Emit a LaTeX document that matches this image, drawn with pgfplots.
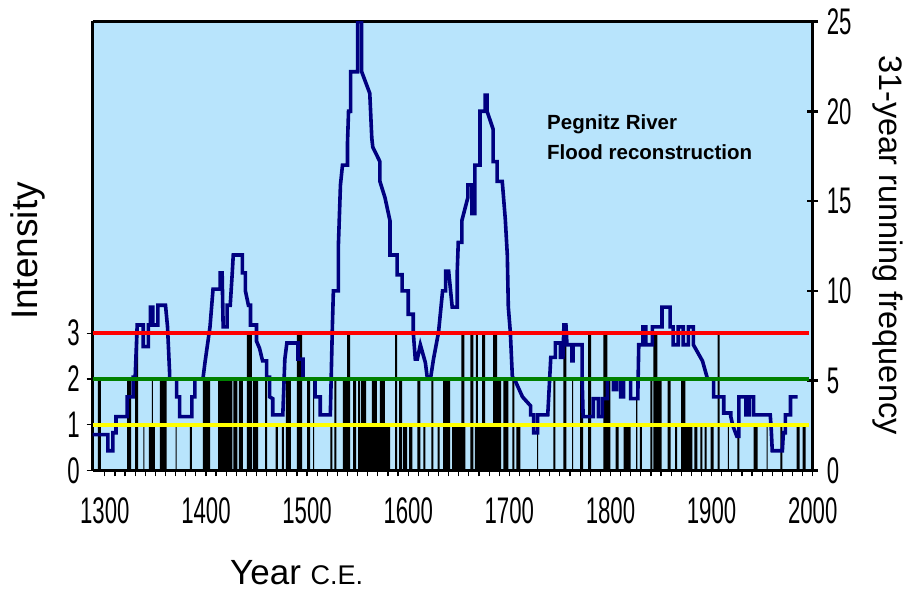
\documentclass[border=0pt]{standalone}
\usepackage{fontspec}
\setmainfont{Liberation Sans}
\usepackage{graphicx}
\usepackage{pgfplots}
\pgfplotsset{compat=1.18}
\definecolor{bgblue}{RGB}{184,228,252}
\definecolor{navy}{RGB}{0,0,128}
\definecolor{dgreen}{RGB}{0,128,0}
\definecolor{yel}{RGB}{255,255,0}
\newcommand\tk[1]{\scalebox{0.6}[1]{#1}}
\begin{document}
\begin{tikzpicture}
\useasboundingbox (-92.7pt,-120.5pt) rectangle (815.3pt,470.5pt);
% ---------- intensity axis (bars) ----------
\begin{axis}[
  at={(0pt,0pt)}, anchor=south west,
  scale only axis, width=720pt, height=449pt,
  xmin=1288, xmax=2000, ymin=0, ymax=9.804,
  axis background/.style={fill=bgblue},
  axis y line*=left,
  axis line style={line width=2.5pt, black},
  xtick={1300,1400,...,2000},
  xticklabels={\tk{1300},\tk{1400},\tk{1500},\tk{1600},\tk{1700},\tk{1800},\tk{1900},\tk{2000}},
  minor x tick num=9,
  xtick pos=left,
  ytick={0,1,2,3},
  yticklabels={\tk{0},\tk{1},\tk{2},\tk{3}},
  tick align=outside,
  major tick length=6pt, minor tick length=6pt,
  tick style={black, line width=1.2pt},
  ticklabel style={font=\fontsize{37}{37}\selectfont, inner sep=0pt},
  xticklabel style={anchor=north, yshift=-20.5pt},
  yticklabel style={anchor=east, xshift=-6.7pt},
]
\addplot[const plot, fill=black, draw=none] coordinates {
(1288,0)(1293,2)(1296,0)(1322,2)(1326,0)(1330,3)(1333,0)(1338,1)(1339,0)
(1343.5,1)(1346.5,2)(1347.5,1)(1349.5,0)(1354.5,2)(1361,0)(1370,1)(1371,0)
(1384,1)(1386,0)(1397,2)(1404,0)(1412,2)(1426,0)(1427,2)(1431,0)(1432.5,2)
(1436.5,0)(1440.5,3)(1445.5,0)(1446.5,2)(1451.5,0)(1458.5,2)(1460.5,0)
(1469,1)(1471,0)(1475,1)(1477,0)(1479,2)(1484,0)(1490,3)(1495,0)(1500,2)
(1503,0)(1506,2)(1507,0)(1523,1)(1525,0)(1527,2)(1529,0)(1535.5,2)(1539.5,3)
(1542.5,0)(1545.5,2)(1548.5,0)(1550.5,2)(1552.5,1)(1553.5,2)(1558.5,1)
(1564,2)(1569,1)(1572,2)(1577,1)(1582,0)(1587,3)(1589,0)(1591,2)(1594,0)
(1595,1)(1599,0)(1601,1)(1604,0)(1609,2)(1612,0)(1615,1)(1617,0)(1623,2)
(1625,0)(1629,1)(1631,0)(1634.5,2)(1641.5,0)(1643.5,1)(1652.5,3)(1655.5,1)
(1656.5,0)(1661.5,3)(1664.5,0)(1666,1)(1667,3)(1669,1)(1673,3)(1676,1)
(1684,3)(1688,2)(1692,0)(1694,2)(1699,0)(1703,2)(1705,0)(1707,1)(1711,0)
(1727.5,1)(1728.5,0)(1743.5,2)(1745.5,0)(1753.5,3)(1756.5,0)(1762,2)(1763,0)
(1770,2)(1773,0)(1778,3)(1781,0)(1793,3)(1797,2)(1800,0)(1805,1)(1808,0)
(1813,1)(1820,0)(1825.5,2)(1826.5,0)(1829,1)(1831,0)(1839.5,2)(1841.5,0)
(1842.5,3)(1846.5,2)(1850.5,0)(1856.5,2)(1859.5,0)(1864,1)(1866,0)(1870,2)
(1874,1)(1881,0)(1883,1)(1886,0)(1889,1)(1891,0)(1893,1)(1895,0)(1899,1)
(1902,0)(1906,3)(1908,0)(1916,1)(1917,0)(1925.5,1)(1927.5,0)(1941.5,1)
(1945.5,0)(1954.5,1)(1955.5,0)(1968,1)(1970,0)(1984,1)(1987,0)(1990,1)
(1993,0)(2000,0)
} \closedcycle;
\end{axis}
% ---------- frequency axis (curve) ----------
\begin{axis}[
  at={(0pt,0pt)}, anchor=south west,
  scale only axis, width=720pt, height=449pt,
  xmin=1288, xmax=2000, ymin=0, ymax=25,
  axis x line=none,
  axis y line*=right,
  axis line style={line width=2.5pt, black},
  ytick={0,5,...,25},
  yticklabels={\tk{0},\tk{5},\tk{10},\tk{15},\tk{20},\tk{25}},
  tick align=center,
  major tick length=11pt,
  tick style={black, line width=2.5pt},
  yticklabel style={font=\fontsize{37}{37}\selectfont, inner sep=0pt, anchor=west, xshift=8.5pt},
]
\addplot[navy, line width=3.6pt] coordinates {
(1288,2.0)(1303,2.0)(1303,1.1)(1308,1.1)(1308,2.1)(1311,2.1)(1311,3.0)(1322,3.0)
(1322,4.1)(1328,4.1)(1328,5.2)(1330,5.2)(1332,8.1)(1338,8.1)(1338,6.9)(1343,6.9)
(1343,8.1)(1345,8.1)(1345,9.1)(1347.5,9.1)(1347.5,8.1)(1352.5,8.1)(1352.5,9.2)
(1360,9.2)(1362,8.0)(1364,5.5)(1364,5.1)(1371,5.1)(1371,4.1)(1374,4.1)(1374,3.0)
(1386,3.0)(1386,4.1)(1389,4.1)(1389,5.1)(1397,5.1)(1399,6.0)(1404,8.0)(1407,10.1)
(1414,10.1)(1414,11.0)(1416,11.0)(1417,8.0)(1421,8.0)(1421,9.2)(1424,9.2)
(1426,11.0)(1427,12.0)(1436,12.0)(1436,11.0)(1439,11.0)(1439,10.0)(1442,9.2)
(1444,9.2)(1444,8.1)(1450,8.1)(1450,7.2)(1453,6.8)(1456,6.1)(1460,6.1)(1460,5.2)
(1463,5.2)(1463,4.1)(1466,4.0)(1466,3.1)(1476,3.1)(1478,6.2)(1480,7.1)(1491,7.1)
(1491,6.2)(1496,6.2)(1496,5.1)(1508,5.1)(1508,4.1)(1513,4.1)(1513,3.1)(1523,3.1)
(1525,8.0)(1526,10.0)(1531,10.0)(1531,12.6)(1533,15.9)(1535,17.0)(1540,17.0)
(1540,18.3)(1541,20.0)(1543,20.0)(1543,22.2)(1550,22.2)(1550,25)(1554,25)
(1554,22.2)(1562,21.0)(1564,18.5)(1565,18.0)(1572,17.2)(1572,16.1)(1577,15.2)
(1582,13.9)(1582,12.0)(1589,12.0)(1589,10.9)(1594,10.9)(1594,10.0)(1600,10.0)
(1600,8.7)(1605,8.7)(1605,7.7)(1607,6.2)(1609,6.2)(1612,7.0)(1617,6.0)(1619,5.1)
(1622,5.1)(1625,6.2)(1630,7.7)(1634,10.0)(1637,10.0)(1637,11.1)(1640,11.1)
(1643.5,9.1)(1648.5,9.1)(1648.5,11.1)(1649.5,12.7)(1653,12.7)(1653,13.9)
(1659,15.2)(1659,15.9)(1663,15.9)(1663,14.3)(1666,14.3)(1666,17.0)(1671,17.0)
(1671,20.0)(1676,20.0)(1676,20.9)(1678,20.9)(1678,20.0)(1684,19.0)(1684,17.2)
(1688,17.2)(1688,16.1)(1693,16.1)(1696,14.0)(1698,12.0)(1699,9.1)(1701,7.7)
(1703,5.2)(1705,5.1)(1709,4.6)(1713,4.1)(1721,3.6)(1721,3.1)(1724,3.1)(1724,2.1)
(1728,2.1)(1728,3.1)(1738,3.1)(1741,6.3)(1745.5,6.3)(1745.5,7.1)(1750.5,7.1)
(1750.5,6.3)(1753,6.3)(1754,8.1)(1756,8.1)(1757,7.0)(1762,7.0)(1762,6.1)
(1763,6.1)(1763,7.0)(1772,7.0)(1772,5.1)(1773,3.0)(1783,3.0)(1783,4.0)(1788,4.0)
(1788,3.0)(1792,3.0)(1792,4.0)(1797,4.0)(1797,5.1)(1803,5.1)(1803,4.5)(1806,4.5)
(1806,5.1)(1810,5.1)(1810,4.1)(1813,4.1)(1813,5.1)(1820,5.1)(1820,4.0)(1827,4.0)
(1828,7.0)(1832,7.0)(1832,8.0)(1835,8.0)(1835,7.0)(1841.5,7.0)(1841.5,8.0)
(1851,8.0)(1851,9.1)(1859,9.1)(1859,8.0)(1862,8.0)(1862,7.0)(1867,7.0)(1867,8.0)
(1872,8.0)(1872,7.0)(1877,7.0)(1877,8.0)(1882,8.0)(1882,7.0)(1887,6.5)(1891,6.1)
(1894,5.5)(1896,5.1)(1902,5.1)(1902,4.1)(1912,4.1)(1912,3.2)(1919,3.2)(1919,3.0)
(1921,2.5)(1925,1.9)(1927,1.9)(1927,4.1)(1934,4.1)(1934,3.1)(1937,3.1)(1937,4.1)
(1941.5,4.1)(1941.5,3.1)(1958,3.1)(1959,2.3)(1960,1.1)(1970,1.1)(1971,2.1)
(1973,2.1)(1973,3.1)(1978,3.1)(1978,4.1)(1985,4.1)
};
\addplot[yel, line width=4pt] coordinates {(1288,2.55) (1996,2.55)};
\addplot[dgreen, line width=4pt] coordinates {(1288,5.10) (1996,5.10)};
\addplot[red, line width=4pt] coordinates {(1288,7.65) (1996,7.65)};
\end{axis}
% ---------- labels ----------
\node[rotate=90, font=\fontsize{37}{40}\selectfont] at (-64.7pt,219.5pt) {Intensity};
\node[rotate=-90, font=\fontsize{32.5}{36}\selectfont] at (795.3pt,225.5pt) {31-year running frequency};
\node[anchor=base west, inner sep=0pt] at (137.3pt,-114.5pt) {\fontsize{35}{38}\selectfont Year \fontsize{27}{30}\selectfont C.E.};
\node[anchor=base west, inner sep=0pt, font=\bfseries\fontsize{20.5}{24}\selectfont] at (454.3pt,340.5pt) {Pegnitz River};
\node[anchor=base west, inner sep=0pt, font=\bfseries\fontsize{20.5}{24}\selectfont] at (454.3pt,310.5pt) {Flood reconstruction};
\end{tikzpicture}
\end{document}
